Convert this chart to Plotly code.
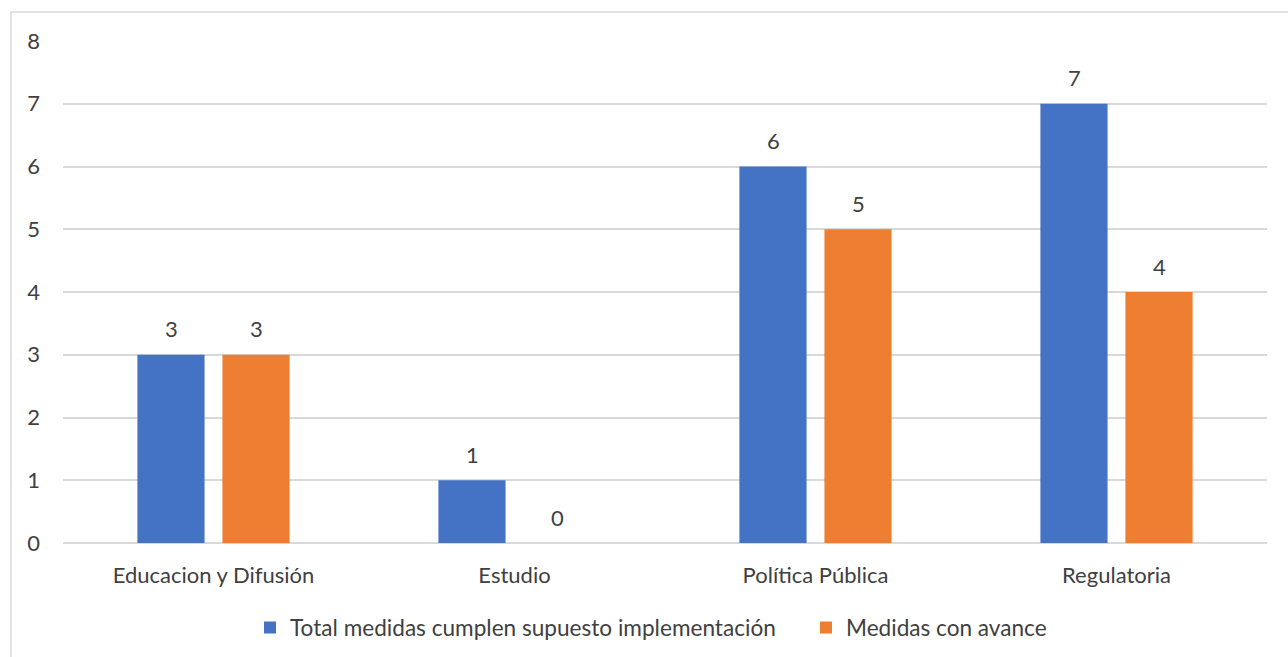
import plotly.graph_objects as go

categories = ["Educacion y Difusión", "Estudio", "Política Pública", "Regulatoria"]
total_medidas = [3, 1, 6, 7]
medidas_avance = [3, 0, 5, 4]
series_names = ["Total medidas cumplen supuesto implementación", "Medidas con avance"]
y_ticks = [0, 1, 2, 3, 4, 5, 6, 7, 8]

FONT = "Lato"
TXT = "#404040"
FS = 22

fig = go.Figure()
fig.add_trace(go.Bar(x=categories, y=total_medidas, name=series_names[0],
                     marker=dict(color="#4472C4", line=dict(width=0))))
fig.add_trace(go.Bar(x=categories, y=medidas_avance, name=series_names[1],
                     marker=dict(color="#ED7D31", line=dict(width=0))))

# data labels placed through the axis scales
for values, dx in ((total_medidas, -42.5), (medidas_avance, 42.5)):
    for cat, v in zip(categories, values):
        fig.add_annotation(x=cat, y=v, xref="x", yref="y", text=str(v), showarrow=False,
                           xshift=dx, yshift=26, yanchor="middle", xanchor="center",
                           font=dict(size=FS, color=TXT, family=FONT))

fig.update_layout(
    width=1288, height=657,
    margin=dict(l=63, r=21, t=41, b=114, autoexpand=False),
    paper_bgcolor="white", plot_bgcolor="white",
    barmode="group", bargap=0.435, bargroupgap=0.21,
    font=dict(family=FONT, size=FS, color=TXT),
    legend=dict(orientation="h", x=(250 - 63) / 1204, xanchor="left", y=-0.126, yanchor="top",
                font=dict(size=22.6, color=TXT, family=FONT),
                entrywidth=511, entrywidthmode="pixels"),
    showlegend=True,
)
fig.update_xaxes(showgrid=False, showline=False, ticks="", ticklabelstandoff=17, automargin=False,
                 tickfont=dict(size=FS, color=TXT))
fig.update_yaxes(range=[0, 8], tickvals=y_ticks, showgrid=True, gridcolor="#d9d9d9", gridwidth=1.5,
                 zeroline=True, zerolinecolor="#d9d9d9", zerolinewidth=1.5, automargin=False,
                 showline=False, ticks="", ticklabelstandoff=22,
                 tickfont=dict(size=FS, color=TXT))
fig.add_shape(type="rect", xref="paper", yref="paper",
              x0=-52/1204, x1=1300/1204 - 63/1204, y0=-140/502, y1=1 + 29/502,
              line=dict(color="#d9d9d9", width=1.5), fillcolor="rgba(0,0,0,0)", layer="below")

fig.write_html("out.html", config={"displayModeBar": False},
               post_script="document.body.style.margin='0';document.body.style.overflow='hidden';")
